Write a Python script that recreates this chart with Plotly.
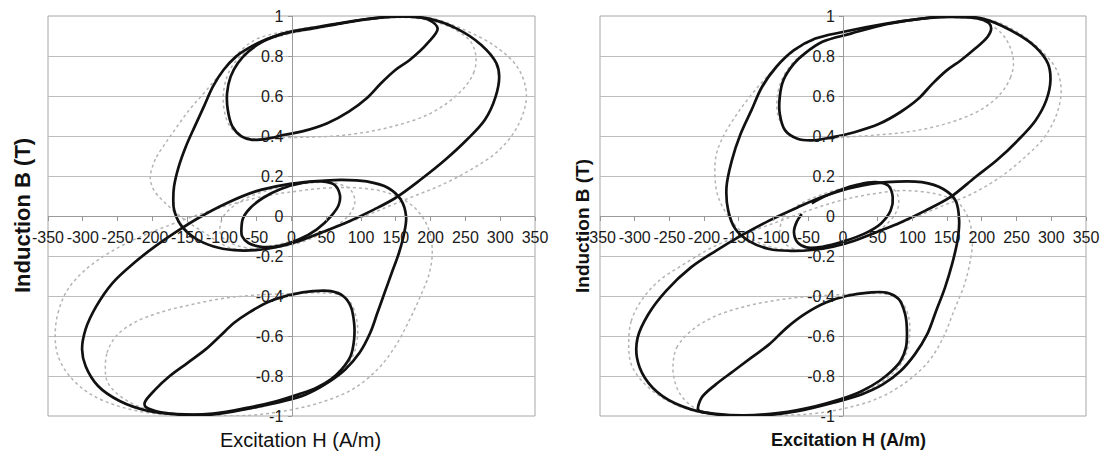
import plotly.graph_objects as go

# ---------------- tick labels ----------------
X_TICKS = [-350, -300, -250, -200, -150, -100, -50, 0, 50, 100, 150, 200, 250, 300, 350]
X_TICKTEXT = ["-350", "-300", "-250", "-200", "-150", "-100", "-50", "0", "50", "100", "150", "200", "250", "300", "350"]
Y_TICKS = [-1, -0.8, -0.6, -0.4, -0.2, 0, 0.2, 0.4, 0.6, 0.8, 1]
Y_TICKTEXT = ["-1", "-0.8", "-0.6", "-0.4", "-0.2", "0", "0.2", "0.4", "0.6", "0.8", "1"]
X_TITLE = "Excitation H (A/m)"
Y_TITLE = "Induction B (T)"

# ================= LEFT CHART =================
L_UB_H = [-169.9, -168.8, -162, -151.8, -139, -126, -113, -97.8, -79.8, -61.8, -36, 0, 41, 92.6, 144, 195.6, 236.8, 272.8, 294.4, 298.5, 293.4, 278, 252, 221, 185.3, 149.3, 118.4, 82.4, 41.2, 10.3, -20.6, -51.5, -82.4, -113, -139, -159.5, -168.8]
L_UB_B = [0.082, 0.148, 0.248, 0.348, 0.448, 0.547, 0.647, 0.730, 0.797, 0.839, 0.884, 0.922, 0.947, 0.977, 0.997, 0.988, 0.938, 0.855, 0.764, 0.697, 0.597, 0.481, 0.381, 0.281, 0.181, 0.090, 0.032, -0.027, -0.085, -0.126, -0.155, -0.171, -0.171, -0.151, -0.110, -0.043, 0.032]
L_LB_H = [164.7, 162, 154.4, 144, 133.8, 123.5, 113.2, 97.8, 77.2, 51.5, 20.6, -10.3, -61.8, -113, -164.7, -205.9, -247, -278, -296, -301, -296, -280.5, -257, -226.5, -195.6, -164.7, -133.8, -92.6, -51.5, -10.3, 30.9, 72, 108, 139, 157]
L_LB_B = [-0.002, -0.085, -0.185, -0.285, -0.384, -0.484, -0.584, -0.684, -0.767, -0.834, -0.892, -0.925, -0.963, -0.992, -0.992, -0.975, -0.925, -0.850, -0.750, -0.667, -0.567, -0.451, -0.334, -0.235, -0.151, -0.077, -0.010, 0.065, 0.123, 0.156, 0.173, 0.181, 0.173, 0.140, 0.082]
L_UM_H = [210, 195.6, 169.9, 149.3, 128.7, 108.1, 82.4, 51.5, 15.4, -10.3, -30.9, -56.6, -72, -85, -91.6, -92.6, -87.5, -77.2, -61.8, -41.2, -10.3, 30.9, 72, 118.4, 169.9, 195.6]
L_UM_B = [0.938, 0.864, 0.780, 0.730, 0.664, 0.589, 0.522, 0.464, 0.423, 0.406, 0.389, 0.381, 0.398, 0.448, 0.531, 0.614, 0.697, 0.764, 0.822, 0.872, 0.913, 0.938, 0.963, 0.988, 0.997, 0.983]
L_LM_H = [-211, -195.6, -175, -149.3, -123.5, -103, -82.4, -61.8, -30.9, 0, 30.9, 56.6, 74.6, 85, 90, 90, 85, 72, 56.6, 36, 10.3, -20.6, -61.8, -113, -164.7, -195.6, -210]
L_LM_B = [-0.933, -0.867, -0.800, -0.734, -0.667, -0.601, -0.534, -0.484, -0.426, -0.393, -0.376, -0.376, -0.401, -0.451, -0.534, -0.617, -0.700, -0.767, -0.817, -0.859, -0.892, -0.925, -0.958, -0.988, -0.990, -0.975, -0.953]
L_IN_H = [-72, -69.5, -59.2, -41.2, -15.4, 15.4, 43.7, 61.8, 69.5, 68, 56.6, 36, 10.3, -15.4, -41.2, -61.8, -71]
L_IN_B = [-0.068, -0.010, 0.040, 0.090, 0.135, 0.165, 0.173, 0.156, 0.106, 0.057, -0.002, -0.068, -0.118, -0.148, -0.155, -0.135, -0.101]
L_GUB_H = [-200, -194, -182, -171, -147, -122, -94, -72, -50, -10.3, 41.2, 92.6, 144.1, 195.6, 247, 293.4, 324.3, 337.1, 334.6, 319.1, 293.4, 257.4, 216.2, 175, 133.8, 92.6, 51.5, 15.4, -20.6, -56.6, -87.5, -129.2, -155, -183, -198, -203]
L_GUB_B = [0.245, 0.295, 0.360, 0.415, 0.530, 0.630, 0.745, 0.830, 0.885, 0.922, 0.950, 0.977, 0.997, 0.993, 0.933, 0.847, 0.747, 0.631, 0.531, 0.414, 0.314, 0.231, 0.156, 0.098, 0.040, -0.018, -0.068, -0.110, -0.143, -0.165, -0.160, -0.075, -0.015, 0.070, 0.130, 0.190]
L_GLB_H = [-339.7, -335.6, -321.7, -296, -262.5, -221.3, -180.1, -133.8, -87.5, -41.2, 5.1, 51.5, 97.8, 139, 175, 195.6, 202.3, 198.2, 185.3, 169.9, 149.3, 123.5, 87.5, 41.2, -10.3, -61.8, -123.5, -185.3, -241.9, -288.2, -319.1, -335.6]
L_GLB_B = [-0.601, -0.484, -0.368, -0.268, -0.185, -0.110, -0.052, 0.007, 0.057, 0.098, 0.123, 0.140, 0.140, 0.115, 0.048, -0.052, -0.168, -0.285, -0.401, -0.517, -0.651, -0.767, -0.867, -0.933, -0.975, -0.997, -0.998, -0.992, -0.958, -0.892, -0.800, -0.700]
L_GUM_H = [265.1, 262.5, 249.6, 226.5, 195.6, 154.4, 113.2, 66.9, 20.6, -20.6, -51.5, -72, -88.5, -96.8, -97.8, -92.6, -82.4, -66.9, -41.2, 0, 51.5, 102.9, 154.4, 195.6, 231.6, 257.4]
L_GUM_B = [0.797, 0.722, 0.647, 0.572, 0.506, 0.456, 0.423, 0.401, 0.394, 0.391, 0.386, 0.401, 0.448, 0.531, 0.614, 0.697, 0.764, 0.817, 0.872, 0.913, 0.947, 0.977, 0.993, 0.980, 0.938, 0.872]
L_GLM_H = [-267.6, -265.1, -252.2, -226.5, -190.4, -144.1, -92.6, -41.2, 0, 41.2, 66.9, 83.4, 92.6, 95.2, 90.1, 77.2, 56.6, 30.9, -10.3, -61.8, -123.5, -180.1, -221.3, -252.2, -265.1]
L_GLM_B = [-0.767, -0.684, -0.601, -0.534, -0.484, -0.443, -0.409, -0.393, -0.388, -0.384, -0.393, -0.426, -0.501, -0.584, -0.684, -0.759, -0.825, -0.875, -0.925, -0.967, -0.992, -0.983, -0.950, -0.884, -0.825]
L_GIN_H = [-103, -97.8, -77.2, -46.3, -10.3, 25.7, 61.8, 84.9, 91.1, 84.9, 66.9, 41.2, 10.3, -25.7, -61.8, -87.5, -100.4]
L_GIN_B = [-0.068, -0.002, 0.065, 0.115, 0.148, 0.165, 0.165, 0.131, 0.073, 0.015, -0.043, -0.093, -0.135, -0.160, -0.160, -0.135, -0.101]

# ================= RIGHT CHART =================
R_UB_H = [-167.8, -160.2, -147.4, -132, -116.7, -96.2, -70.6, -39.9, 1, 62.4, 113.6, 149.4, 200.6, 241.5, 277.3, 295.2, 298.8, 292.7, 277.3, 251.8, 221, 190.4, 154.5, 118.7, 82.9, 47, 16.4, -14.3, -45, -75.7, -106.4, -134.6, -155, -165.3]
R_UB_B = [0.144, 0.277, 0.411, 0.528, 0.645, 0.745, 0.829, 0.887, 0.921, 0.962, 0.987, 0.999, 0.987, 0.929, 0.845, 0.762, 0.678, 0.578, 0.478, 0.378, 0.277, 0.194, 0.094, 0.027, -0.032, -0.082, -0.124, -0.154, -0.170, -0.174, -0.165, -0.127, -0.065, 0.027]
R_LB_H = [167.3, 164.8, 157.1, 146.9, 134.1, 121.3, 103.4, 82.9, 57.3, 26.6, -14.3, -65.5, -116.7, -167.8, -219, -260, -285.5, -296.8, -295.8, -280.4, -254.8, -219, -183.2, -147.4, -106.4, -65.5, -24.6, 16.4, 62.4, 113.6, 144.3, 162.2]
R_LB_B = [-0.023, -0.124, -0.241, -0.358, -0.475, -0.591, -0.692, -0.775, -0.842, -0.892, -0.934, -0.976, -0.997, -0.997, -0.967, -0.901, -0.809, -0.708, -0.608, -0.491, -0.374, -0.257, -0.174, -0.099, -0.023, 0.043, 0.102, 0.144, 0.169, 0.169, 0.135, 0.077]
R_UM_H = [213.4, 208.3, 190.4, 169.9, 149.4, 129, 108.5, 82.9, 52.2, 16.4, -14.3, -45, -65.5, -83.4, -91.1, -91.1, -86, -70.6, -55.3, -29.7, 11.3, 62.4, 113.6, 154.5, 195.5, 210.8]
R_UM_B = [0.937, 0.896, 0.837, 0.779, 0.728, 0.662, 0.586, 0.520, 0.461, 0.419, 0.394, 0.378, 0.386, 0.428, 0.511, 0.595, 0.678, 0.762, 0.812, 0.871, 0.912, 0.959, 0.987, 0.996, 0.987, 0.962]
R_LM_H = [-208.8, -203.7, -183.2, -157.6, -132, -106.4, -80.8, -55.3, -24.6, 6.1, 36.8, 62.4, 80.3, 89.5, 92.1, 90.6, 82.9, 70.1, 52.2, 26.6, -4.1, -39.9, -91.1, -142.3, -183.2, -206.2]
R_LM_B = [-0.967, -0.909, -0.842, -0.775, -0.708, -0.642, -0.558, -0.491, -0.433, -0.399, -0.383, -0.383, -0.416, -0.491, -0.575, -0.658, -0.725, -0.775, -0.825, -0.876, -0.917, -0.951, -0.984, -0.997, -0.989, -0.976]
R_IN_H = [-45, -27.1, -4.1, 21.5, 47.1, 65, 71.6, 68.6, 54.8, 31.7, 1, -29.7, -52.7, -65.5, -70.6, -67, -59.4]
R_IN_B = [0.063, 0.097, 0.130, 0.157, 0.169, 0.152, 0.094, 0.027, -0.037, -0.087, -0.127, -0.154, -0.157, -0.132, -0.082, -0.032, 0.010]
R_GUB_H = [-183.2, -173, -152.5, -126.9, -96.2, -65.5, -29.7, 11.3, 62.4, 113.6, 154.5, 205.7, 246.6, 285, 308, 314.2, 308, 290.1, 262, 226.2, 185.2, 144.3, 103.4, 62.4, 26.6, -9.2, -45, -80.8, -116.7, -147.4, -170.4, -182.2]
R_GUB_B = [0.294, 0.394, 0.511, 0.628, 0.745, 0.837, 0.896, 0.926, 0.959, 0.986, 0.996, 0.987, 0.929, 0.829, 0.728, 0.628, 0.511, 0.394, 0.294, 0.194, 0.110, 0.052, -0.007, -0.065, -0.110, -0.149, -0.170, -0.170, -0.140, -0.074, 0.027, 0.127]
R_GLB_H = [-308.6, -305, -290.6, -265.1, -229.2, -188.3, -142.3, -96.2, -50.1, -4.1, 42, 88, 134.1, 164.8, 180.1, 186.3, 184.2, 175, 159.7, 144.3, 123.8, 93.1, 52.2, 6.1, -45, -106.4, -167.8, -219, -260, -289.6, -305]
R_GLB_B = [-0.642, -0.525, -0.424, -0.324, -0.241, -0.157, -0.090, -0.032, 0.027, 0.077, 0.110, 0.127, 0.110, 0.069, -0.007, -0.107, -0.207, -0.341, -0.475, -0.608, -0.725, -0.825, -0.909, -0.959, -0.989, -0.998, -0.998, -0.972, -0.909, -0.825, -0.742]
R_GUM_H = [245.6, 241.5, 227.2, 203.1, 169.9, 129, 88, 42, 1, -34.8, -60.4, -79.8, -93.6, -94.7, -88.5, -73.2, -55.3, -29.7, 11.3, 62.4, 113.6, 159.7, 200.6, 228.7, 241.5]
R_GUM_B = [0.762, 0.695, 0.612, 0.541, 0.486, 0.444, 0.418, 0.403, 0.394, 0.383, 0.381, 0.419, 0.503, 0.595, 0.678, 0.762, 0.815, 0.871, 0.912, 0.959, 0.986, 0.992, 0.976, 0.912, 0.837]
R_GLM_H = [-244.6, -239.5, -219, -188.3, -147.4, -101.3, -55.3, -9.2, 31.7, 62.4, 82.9, 94.2, 96.2, 92.1, 82.9, 67.5, 47.1, 16.4, -24.6, -75.7, -126.9, -178.1, -213.9, -234.3, -243.5]
R_GLM_B = [-0.733, -0.658, -0.575, -0.508, -0.458, -0.424, -0.404, -0.394, -0.388, -0.391, -0.424, -0.500, -0.591, -0.675, -0.742, -0.800, -0.850, -0.901, -0.942, -0.979, -0.997, -0.992, -0.959, -0.892, -0.809]
R_GIN_H = [-91.1, -86, -65.5, -34.8, 1, 36.8, 62.4, 76.8, 80.3, 73.7, 57.3, 31.7, 1, -34.8, -65.5, -83.4, -91.1]
R_GIN_B = [-0.074, -0.007, 0.052, 0.102, 0.140, 0.160, 0.157, 0.119, 0.060, 0.002, -0.057, -0.104, -0.140, -0.165, -0.170, -0.140, -0.110]

# ---------------- figure ----------------
W, H = 1106, 455
BLACK = dict(color="#111111", width=2.7, shape="spline", smoothing=1.0)
GREY = dict(color="#b4b4b4", width=1.5, dash="dot", shape="spline", smoothing=1.0)

fig = go.Figure()


def add_loop(hv, bv, line, xa, ya, closed=True):
    xs = list(hv) + ([hv[0]] if closed else [])
    ys = list(bv) + ([bv[0]] if closed else [])
    fig.add_trace(go.Scatter(x=xs, y=ys, mode="lines", line=line, xaxis=xa, yaxis=ya,
                             showlegend=False, hoverinfo="skip"))


left_grey = [(L_GUB_H, L_GUB_B), (L_GLB_H, L_GLB_B), (L_GUM_H, L_GUM_B), (L_GLM_H, L_GLM_B), (L_GIN_H, L_GIN_B)]
left_black = [(L_UB_H, L_UB_B), (L_LB_H, L_LB_B), (L_UM_H, L_UM_B), (L_LM_H, L_LM_B), (L_IN_H, L_IN_B)]
right_grey = [(R_GUB_H, R_GUB_B), (R_GLB_H, R_GLB_B), (R_GUM_H, R_GUM_B), (R_GLM_H, R_GLM_B), (R_GIN_H, R_GIN_B)]
right_black = [(R_UB_H, R_UB_B), (R_LB_H, R_LB_B), (R_UM_H, R_UM_B), (R_LM_H, R_LM_B)]

for hv, bv in left_grey:
    add_loop(hv, bv, GREY, "x", "y")
for hv, bv in left_black:
    add_loop(hv, bv, BLACK, "x", "y")
for hv, bv in right_grey:
    add_loop(hv, bv, GREY, "x2", "y2")
for hv, bv in right_black:
    add_loop(hv, bv, BLACK, "x2", "y2")
add_loop(R_IN_H, R_IN_B, BLACK, "x2", "y2", closed=False)

# plot-area geometry in pixels
LX0, LX1 = 48, 535
RX0, RX1 = 600, 1086
PY0, PY1 = 16, 416  # top, bottom
ydom = [(H - PY1) / H, (H - PY0) / H]
ymid = (ydom[0] + ydom[1]) / 2
ldom = [LX0 / W, LX1 / W]
rdom = [RX0 / W, RX1 / W]

FONT = "Liberation Sans, Arial, sans-serif"
tickfont = dict(family=FONT, size=16, color="#1a1a1a")
GRID = "#bdbdbd"


def xaxis_cfg(dom):
    return dict(domain=dom, range=[-350, 350], anchor="free", position=ymid,
                tickvals=X_TICKS, ticktext=X_TICKTEXT, ticks="outside", ticklen=4, tickcolor="#999",
                showline=True, linecolor="#9a9a9a", linewidth=1, showgrid=False, zeroline=False,
                tickfont=tickfont, ticklabelstandoff=3, fixedrange=True, automargin=False)


def yaxis_cfg(xmid):
    return dict(domain=ydom, range=[-1, 1], anchor="free", position=xmid,
                tickvals=Y_TICKS, ticktext=Y_TICKTEXT, ticks="outside", ticklen=4, tickcolor="#999",
                showline=True, linecolor="#9a9a9a", linewidth=1, showgrid=True, gridcolor=GRID,
                gridwidth=1, zeroline=False, tickfont=tickfont, ticklabelstandoff=1, fixedrange=True,
                automargin=False)


fig.update_layout(
    width=W, height=H, margin=dict(l=0, r=0, t=0, b=0, autoexpand=False),
    paper_bgcolor="white", plot_bgcolor="white",
    xaxis=xaxis_cfg(ldom), xaxis2=xaxis_cfg(rdom),
    yaxis=yaxis_cfg((ldom[0] + ldom[1]) / 2),
    yaxis2=yaxis_cfg((rdom[0] + rdom[1]) / 2),
)

for xr_, yr_ in (("x domain", "y domain"), ("x2 domain", "y2 domain")):
    fig.add_shape(type="rect", xref=xr_, yref=yr_, x0=0, x1=1, y0=0, y1=1,
                  line=dict(color="#a6a6a6", width=1), layer="below")

fig.add_annotation(text=X_TITLE, xref="paper", yref="paper", x=300 / W, y=(H - 440) / H,
                   showarrow=False, xanchor="center", yanchor="middle",
                   font=dict(family=FONT, size=20, color="#111"))
fig.add_annotation(text="<b>" + X_TITLE + "</b>", xref="paper", yref="paper", x=848 / W, y=(H - 440) / H,
                   showarrow=False, xanchor="center", yanchor="middle",
                   font=dict(family=FONT, size=18, color="#111"))
fig.add_annotation(text="<b>" + Y_TITLE + "</b>", xref="paper", yref="paper", x=22 / W, y=(H - 216) / H,
                   showarrow=False, xanchor="center", yanchor="middle", textangle=-90,
                   font=dict(family=FONT, size=22, color="#111"))
fig.add_annotation(text="<b>" + Y_TITLE + "</b>", xref="paper", yref="paper", x=582 / W, y=(H - 226) / H,
                   showarrow=False, xanchor="center", yanchor="middle", textangle=-90,
                   font=dict(family=FONT, size=19, color="#111"))

fig.write_html("out.html", config={"displayModeBar": False, "staticPlot": True},
               post_script="document.body.style.margin='0px';")
